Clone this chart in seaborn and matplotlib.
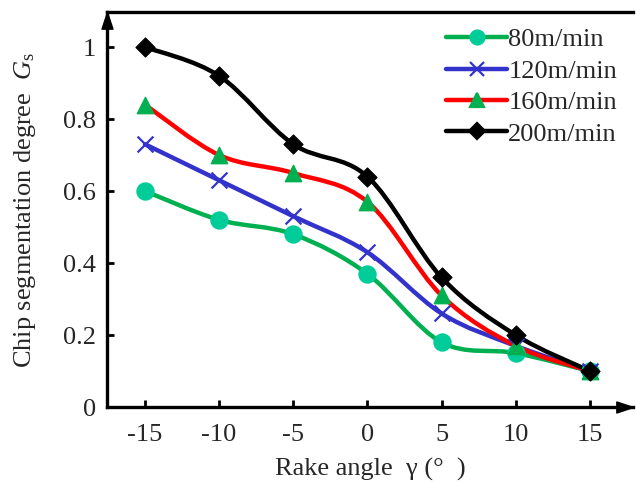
import numpy as np
import pandas as pd
import seaborn as sns
from matplotlib import pyplot as plt
from matplotlib.path import Path
from matplotlib.patches import PathPatch
from matplotlib.lines import Line2D

# data
rake_angle = [-15, -10, -5, 0, 5, 10, 15]
speeds = ["80m/min", "120m/min", "160m/min", "200m/min"]
gs_80 = [0.60, 0.52, 0.48, 0.37, 0.18, 0.15, 0.10]
gs_120 = [0.73, 0.63, 0.53, 0.43, 0.26, 0.17, 0.10]
gs_160 = [0.84, 0.70, 0.65, 0.57, 0.31, 0.17, 0.10]
gs_200 = [1.00, 0.92, 0.73, 0.64, 0.36, 0.20, 0.10]

line_colors = ["#00B050", "#3333CC", "#FF0000", "#000000"]
marker_colors = ["#00CC99", "#3333CC", "#00B050", "#000000"]
markers = ["o", "x", "^", "D"]
marker_sizes = [150, 130, 140, 95]


def smooth_path(xs, ys):
    # excel-like smoothed line: cubic bezier segments through every point
    pts = np.column_stack([xs, ys]).astype(float)
    n = len(pts)
    verts = [pts[0]]
    codes = [Path.MOVETO]
    for i in range(n - 1):
        p0 = pts[max(i - 1, 0)]
        p1 = pts[i]
        p2 = pts[i + 1]
        p3 = pts[min(i + 2, n - 1)]
        c1 = p1 + (p2 - p0) / 6
        c2 = p2 - (p3 - p1) / 6
        verts += [c1, c2, p2]
        codes += [Path.CURVE4] * 3
    return Path(verts, codes)


if __name__ == "__main__":
    sns.set_style("ticks")
    plt.rcParams["font.family"] = ["Liberation Serif", "DejaVu Serif"]
    plt.rcParams["mathtext.fontset"] = "custom"
    plt.rcParams["mathtext.rm"] = "Liberation Serif"
    plt.rcParams["mathtext.it"] = "Liberation Serif:italic"
    plt.rcParams["axes.unicode_minus"] = False
    FS = 19

    df = pd.DataFrame({
        "angle": rake_angle * 4,
        "gs": gs_80 + gs_120 + gs_160 + gs_200,
        "speed": np.repeat(speeds, len(rake_angle)),
    })

    fig = plt.figure(figsize=(6.36, 4.84), dpi=100)
    ax = fig.add_axes([0.168, 0.159, 0.827, 0.816])

    handles = []
    for i, sp in enumerate(speeds):
        d = df[df["speed"] == sp]
        ax.add_patch(PathPatch(smooth_path(d["angle"], d["gs"]), facecolor="none",
                               edgecolor=line_colors[i], lw=3.2, zorder=2 + i,
                               capstyle="round", joinstyle="round"))
        kw = dict(edgecolor=marker_colors[i]) if markers[i] != "x" else dict(linewidth=1.6)
        sns.scatterplot(data=d, x="angle", y="gs", ax=ax, marker=markers[i],
                        color=marker_colors[i], s=marker_sizes[i], zorder=10 + i,
                        legend=False, **kw)
        handles.append(Line2D([0], [0], color=line_colors[i], lw=3.2, marker=markers[i],
                              markerfacecolor=marker_colors[i], markeredgecolor=marker_colors[i],
                              markersize=10 if markers[i] != "D" else 8, mew=1.6))

    ax.set_xlim(-17.57, 17.9)
    ax.set_ylim(0, 1.097)
    ax.set_xticks(rake_angle)
    ax.set_xticklabels([str(v) for v in rake_angle])
    ax.set_yticks([0, 0.2, 0.4, 0.6, 0.8, 1])
    ax.set_yticklabels(["0", "0.2", "0.4", "0.6", "0.8", "1"])
    ax.tick_params(direction="in", length=5, width=2, labelsize=FS, color="black")
    ax.tick_params(axis="x", pad=12)
    ax.tick_params(axis="y", pad=8)

    for s in ["left", "bottom", "top"]:
        ax.spines[s].set_linewidth(2.4)
        ax.spines[s].set_color("black")
    ax.spines["right"].set_visible(False)

    # arrow heads on the axes
    up = [(0, 0), (-0.33, -1), (0.33, -1), (0, 0)]
    right = [(0, 0), (-1, 0.33), (-1, -0.33), (0, 0)]
    ax.plot([0], [1], marker=up, ms=24, color="black", transform=ax.transAxes, clip_on=False)
    ax.plot([1], [0], marker=right, ms=24, color="black", transform=ax.transAxes, clip_on=False)

    ax.set_xlabel("Rake angle  γ (°  )", fontsize=FS, labelpad=9)
    ax.set_ylabel(r"Chip segmentation degree  $G_\mathrm{s}$", fontsize=FS, labelpad=18)

    ax.legend(handles, speeds, loc="upper right", bbox_to_anchor=(1.0, 1.0), frameon=False,
              fontsize=FS, handlelength=2.3, handletextpad=0.05, labelspacing=0.3,
              borderaxespad=0.2)

    plt.savefig("out.png", dpi=100)
